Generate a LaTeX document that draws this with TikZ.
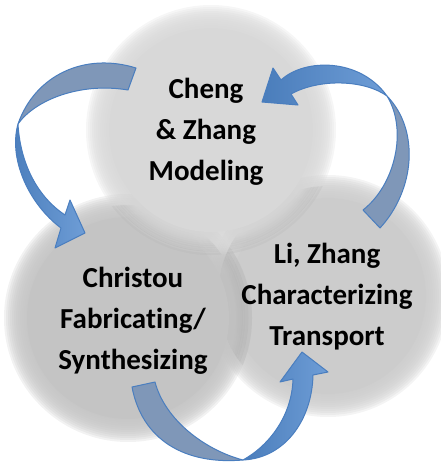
\documentclass[tikz,border=0pt]{standalone}
\usepackage{fontspec}
\setmainfont{Carlito}[Ligatures={NoCommon,NoRequired,NoContextual,NoDiscretionary}]
\definecolor{ctop}{HTML}{D8D8D8}
\definecolor{cleft}{HTML}{C4C4C4}
\definecolor{cright}{HTML}{CCCCCC}
\definecolor{arrline}{HTML}{4A7EBF}
\definecolor{arrA}{HTML}{4A7DBB}
\definecolor{arrB}{HTML}{6E9DD6}
\definecolor{arrback}{HTML}{7F97B8}
\newcommand{\softdisc}[3]{%
  \foreach \k in {0,...,11}{\fill[#3,opacity=0.22] (#1) circle ({#2+11-2*\k});}
  \fill[#3] (#1) circle ({#2-12});}
\newcommand{\softshadow}[2]{%
  \foreach \w in {24,17,11,6}{\draw[black,opacity=0.05,line width=\w pt] (#1) circle ({#2-1});}}
\begin{document}
\begin{tikzpicture}[x=1pt,y=-1pt,
  lbl/.style={font=\bfseries\fontsize{29}{41}\selectfont, align=center, text=black, inner sep=0pt},
  front/.style={draw=arrline, line width=1pt, line join=round, left color=arrA, right color=arrB},
  back/.style={draw=arrline, line width=1pt, line join=round, fill=arrback}]
\useasboundingbox (0,0) rectangle (441,466);
\coordinate (T) at (211,130);
\coordinate (L) at (128,318);
\coordinate (R) at (328,296);
% right circle
\softdisc{R}{110}{cright}
% shadow of left circle on right circle
\begin{scope}
  \clip (R) circle (110);
  \softshadow{L}{113}
\end{scope}
\softdisc{L}{113}{cleft}
% shadow of top circle on the lower circles
\begin{scope}
  \clip (L) circle (113) (R) circle (110);
  \softshadow{T}{114}
\end{scope}
\softdisc{T}{114}{ctop}
% labels
\node[lbl] (cheng) at (206,132) {Cheng\\\& Zhang\\Modeling};
\node[lbl] (christou) at (133,321) {Christou\\Fabricating/\\Synthesizing};
\node[lbl] (li) at (327,297) {Li, Zhang\\Characterizing\\Transport};
% arrow 1 (top-left, to Christou)
\path[back] (136,68) .. controls (85,52) and (35,75) .. (18,124)
  .. controls (35,100) and (80,82) .. (128,90) -- cycle;
\path[front] (18,124) .. controls (8,160) and (30,205) .. (61,228)
  -- (55,248) -- (85,233) -- (70,200) -- (65,215)
  .. controls (35,195) and (20,160) .. (18,124) -- cycle;
% arrow 2 (right, to Cheng)
\path[back] (387,96) .. controls (420,130) and (415,190) .. (380,228)
  -- (363,210) .. controls (395,185) and (408,130) .. (387,96) -- cycle;
\path[front] (387,96) .. controls (360,58) and (305,58) .. (281,80)
  -- (273,68) -- (262,102) -- (298,105) -- (291,94)
  .. controls (320,78) and (365,80) .. (387,96) -- cycle;
% arrow 3 (bottom, to Li)
\path[back] (132,387) .. controls (142,440) and (185,465) .. (243,460)
  .. controls (205,450) and (165,420) .. (155,382) -- cycle;
\path[front] (243,460) .. controls (285,458) and (312,420) .. (313,375)
  -- (328,372) -- (302,352) -- (280,382) -- (293,379)
  .. controls (292,415) and (270,445) .. (243,460) -- cycle;
\end{tikzpicture}
\end{document}
